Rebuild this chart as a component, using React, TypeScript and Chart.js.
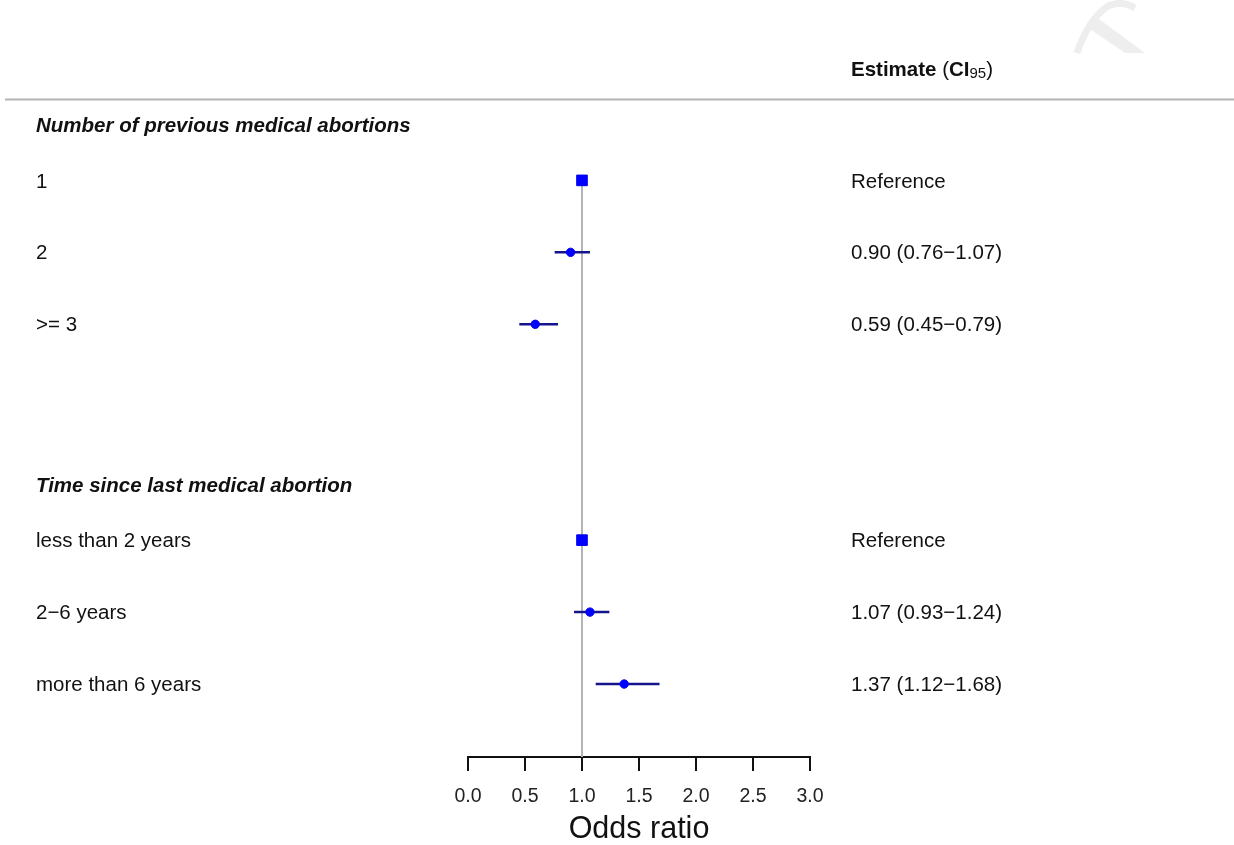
import React, { useEffect, useRef } from "react";
import { Chart, registerables } from "chart.js";

Chart.register(...registerables);

// ---------- data ----------
const groupTitles = ["Number of previous medical abortions", "Time since last medical abortion"];
const groupTitleRows = [-0.778, 4.236];
const rowLabels = ["1", "2", ">= 3", "less than 2 years", "2\u22126 years", "more than 6 years"];
const rowPositions = [0, 1, 2, 5, 6, 7];
const estimates = [1.0, 0.9, 0.59, 1.0, 1.07, 1.37];
const lowerCI = [null, 0.76, 0.45, null, 0.93, 1.12];
const upperCI = [null, 1.07, 0.79, null, 1.24, 1.68];
const isReference = [true, false, false, true, false, false];
const estimateTexts = [
  "Reference",
  "0.90 (0.76\u22121.07)",
  "0.59 (0.45\u22120.79)",
  "Reference",
  "1.07 (0.93\u22121.24)",
  "1.37 (1.12\u22121.68)",
];
const xMin = 0;
const xMax = 3;
const xStep = 0.5;
const referenceValue = 1;
const headerRow = -1.556;
const headerRuleRow = -1.125;
const yTop = -2.389;
const yBottom = 8.014;

const FONT = '"Liberation Sans", Arial, sans-serif';
const TXT = 20.5;
const TEXT_DY = 1.5;

export default function App() {
  const canvasRef = useRef<HTMLCanvasElement | null>(null);

  useEffect(() => {
    document.body.style.margin = "0";
    const canvas = canvasRef.current;
    if (!canvas) return;

    const pointData = estimates
      .map((e, i) => ({ x: e, y: rowPositions[i], ref: isReference[i] }))
      .filter((p) => !p.ref)
      .map((p) => ({ x: p.x, y: p.y }));
    const squareData = estimates
      .map((e, i) => ({ x: e, y: rowPositions[i], ref: isReference[i] }))
      .filter((p) => p.ref)
      .map((p) => ({ x: p.x, y: p.y }));

    const ciDatasets = rowPositions
      .map((pos, i) => ({ pos, lo: lowerCI[i], hi: upperCI[i] }))
      .filter((r) => r.lo !== null && r.hi !== null)
      .map((r) => ({
        data: [
          { x: r.lo as number, y: r.pos },
          { x: r.hi as number, y: r.pos },
        ],
        showLine: true,
        borderColor: "#14148c",
        borderWidth: 2.5,
        pointRadius: 0,
        pointHoverRadius: 0,
      }));

    const textPlugin = {
      id: "forestText",
      beforeDraw(chart: any) {
        const ctx = chart.ctx;
        ctx.save();
        // faint watermark mark at the top right
        ctx.strokeStyle = "#eeeeee";
        ctx.fillStyle = "#eeeeee";
        ctx.lineWidth = 7;
        ctx.lineCap = "butt";
        ctx.beginPath();
        ctx.moveTo(1077, 53);
        ctx.quadraticCurveTo(1088, 20, 1108, 6);
        ctx.quadraticCurveTo(1122, 0, 1135, 8);
        ctx.stroke();
        ctx.beginPath();
        ctx.moveTo(1087, 27);
        ctx.lineTo(1099, 19);
        ctx.lineTo(1145, 53);
        ctx.lineTo(1125, 53);
        ctx.closePath();
        ctx.fill();
        ctx.restore();
      },
      afterDraw(chart: any) {
        const ctx = chart.ctx;
        const y = chart.scales.y;
        ctx.save();
        ctx.textBaseline = "middle";
        ctx.textAlign = "left";
        ctx.fillStyle = "#111111";

        // header rule
        const ry = y.getPixelForValue(headerRuleRow);
        ctx.strokeStyle = "#b4b4b4";
        ctx.lineWidth = 2;
        ctx.beginPath();
        ctx.moveTo(5, ry);
        ctx.lineTo(1234, ry);
        ctx.stroke();

        // header text: Estimate (CI95)
        const hy = y.getPixelForValue(headerRow) + TEXT_DY;
        let hx = 851;
        ctx.font = `bold ${TXT}px ${FONT}`;
        ctx.fillText("Estimate ", hx, hy);
        hx += ctx.measureText("Estimate ").width;
        ctx.font = `${TXT}px ${FONT}`;
        ctx.fillText("(", hx, hy);
        hx += ctx.measureText("(").width;
        ctx.font = `bold ${TXT}px ${FONT}`;
        ctx.fillText("CI", hx, hy);
        hx += ctx.measureText("CI").width;
        ctx.font = `15px ${FONT}`;
        ctx.fillText("95", hx, hy + 4);
        hx += ctx.measureText("95").width;
        ctx.font = `${TXT}px ${FONT}`;
        ctx.fillText(")", hx, hy);

        // group titles
        ctx.font = `italic bold ${TXT}px ${FONT}`;
        groupTitles.forEach((t, i) => {
          ctx.fillText(t, 36, y.getPixelForValue(groupTitleRows[i]) + TEXT_DY);
        });

        // row labels and estimate texts
        ctx.font = `${TXT}px ${FONT}`;
        rowLabels.forEach((t, i) => {
          const py = y.getPixelForValue(rowPositions[i]) + TEXT_DY;
          ctx.fillText(t, 36, py);
          ctx.fillText(estimateTexts[i], 851, py);
        });
        ctx.restore();
      },
    };

    const chart = new Chart(canvas, {
      type: "scatter",
      data: {
        datasets: [
          {
            data: squareData,
            pointStyle: "rect",
            pointRadius: 7.5,
            pointBackgroundColor: "#0000ff",
            pointBorderColor: "#0000ee",
            pointBorderWidth: 1,
          } as any,
          {
            data: pointData,
            pointStyle: "circle",
            pointRadius: 4.2,
            pointBackgroundColor: "#0000ff",
            pointBorderColor: "#0000ee",
            pointBorderWidth: 1,
          } as any,
          ...(ciDatasets as any[]),
          {
            data: [
              { x: referenceValue, y: rowPositions[0] },
              { x: referenceValue, y: yBottom },
            ],
            showLine: true,
            borderColor: "#b4b4b4",
            borderWidth: 2,
            pointRadius: 0,
            pointHoverRadius: 0,
          } as any,
        ],
      },
      plugins: [textPlugin],
      options: {
        animation: false,
        responsive: false,
        maintainAspectRatio: false,
        events: [],
        layout: { padding: { left: 468, right: 424, top: 0, bottom: 0 } },
        plugins: {
          legend: { display: false },
          tooltip: { enabled: false },
        },
        scales: {
          x: {
            type: "linear",
            min: xMin,
            max: xMax,
            afterFit: (scale: any) => {
              scale.height = 88;
            },
            afterBuildTicks: (scale: any) => {
              const ticks = [];
              for (let v = xMin; v <= xMax + 1e-9; v += xStep) ticks.push({ value: v });
              scale.ticks = ticks;
            },
            border: { display: true, color: "#111111", width: 2 },
            grid: {
              display: true,
              drawOnChartArea: false,
              drawTicks: true,
              tickLength: 14,
              color: "#111111",
              lineWidth: 2,
            },
            ticks: {
              padding: 14,
              color: "#222222",
              font: { family: FONT, size: 19.5 },
              maxRotation: 0,
              autoSkip: false,
              callback: (v: any) => Number(v).toFixed(1),
            },
            title: {
              display: true,
              text: "Odds ratio",
              color: "#111111",
              font: { family: FONT, size: 30.5 },
              padding: { top: 0, bottom: -3 },
            },
          },
          y: {
            type: "linear",
            display: false,
            reverse: true,
            min: yTop,
            max: yBottom,
          },
        },
      } as any,
    });

    return () => {
      chart.destroy();
    };
  }, []);

  return (
    <div style={{ position: "absolute", left: 0, top: 0, width: 1234, height: 845, background: "#ffffff" }}>
      <canvas ref={canvasRef} width={1234} height={845} style={{ width: 1234, height: 845, display: "block" }} />
    </div>
  );
}
